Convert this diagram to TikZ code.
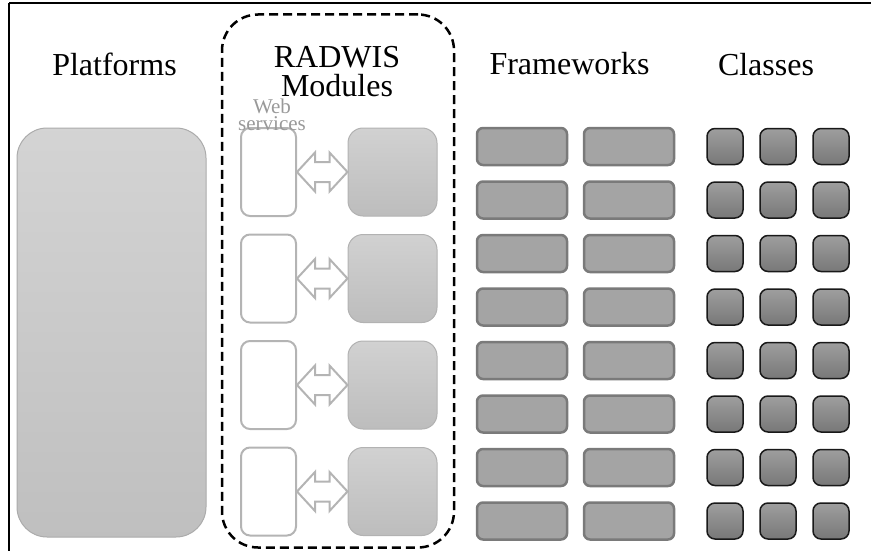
\documentclass[tikz,border=0pt]{standalone}
\usepackage{fontspec}
\setmainfont{Liberation Serif}
\usetikzlibrary{calc}

\definecolor{wsgray}{HTML}{B4B4B4}
\definecolor{fwfill}{HTML}{A4A4A4}
\definecolor{fwline}{HTML}{7A7A7A}

\begin{document}
\begin{tikzpicture}[x = 1pt, y = -1pt,
	title/.style = {font = \fontsize{32}{29}\selectfont, align = center, inner sep = 0},
	platbox/.style = {draw = black!33, line width = 1pt, rounded corners = 30pt,
		top color = black!17, bottom color = black!25,
		minimum width = 189pt, minimum height = 409pt},
	modframe/.style = {draw, line width = 2.5pt, dash pattern = on 9pt off 5pt,
		rounded corners = 36pt, minimum width = 232pt, minimum height = 533pt},
	wsbox/.style = {draw = wsgray, fill = white, line width = 2pt, rounded corners = 9pt,
		minimum width = 55pt, minimum height = 88pt},
	modbox/.style = {draw = black!30, line width = 1pt, rounded corners = 15pt,
		top color = black!18, bottom color = black!26,
		minimum width = 89pt, minimum height = 88pt},
	wsarrow/.style = {draw = wsgray, fill = white, line width = 2pt, line join = miter},
	fwbox/.style = {draw = fwline, fill = fwfill, line width = 2.5pt, rounded corners = 6pt,
		minimum width = 90pt, minimum height = 37pt},
	clbox/.style = {draw = black!90, line width = 1.5pt, rounded corners = 8pt,
		top color = black!38, bottom color = black!53,
		minimum width = 36pt, minimum height = 36pt}]
	\useasboundingbox (0,0) rectangle (871,551);
	
	% frame
	\draw[line width = 2.5pt] (9,3) -- (871,3);
	\draw[line width = 2pt] (9,3) -- (9,551);
	
	% titles
	\node[title, anchor = base] (tplat) at (114.5,76) {Platforms};
	\node[title, anchor = base, text depth = 0pt] (tmod) at (337,97) {RADWIS\\Modules};
	\node[title, anchor = base] (tfw) at (569.5,75) {Frameworks};
	\node[title, anchor = base] (tcl) at (766,76) {Classes};
	
	% platforms
	\node[platbox] (plat) at (111.5,332.5) {};
	
	% RADWIS modules
	\node[modframe] (radwis) at (338,281) {};
	\foreach \i in {0,...,3} {
		\node[wsbox] (ws\i) at (268.5,{172+106.5*\i}) {};
		\node[modbox] (mod\i) at (392.5,{172+106.5*\i}) {};
		\draw[wsarrow] (ws\i.east) -- ++(18,-19.5) -- ++(0,9.5)
			-- ($(mod\i.west)+(-18,-10)$) -- ++(0,-9.5) -- (mod\i.west)
			-- ++(-18,19.5) -- ++(0,-9.5) -- ($(ws\i.east)+(18,10)$) -- ++(0,9.5) -- cycle;
	}
	\node[font = \fontsize{21}{17}\selectfont, text = black!40, align = center,
		anchor = base, inner sep = 0, text height = 12pt] (twebs) at (272,130) {Web\\services};
	
	% frameworks and classes
	\foreach \i in {0,...,7} {
		\node[fwbox] (fwa\i) at (522,{146.5+53.5*\i}) {};
		\node[fwbox] (fwb\i) at (629,{146.5+53.5*\i}) {};
		\node[clbox] (cla\i) at (725,{146.5+53.5*\i}) {};
		\node[clbox] (clb\i) at (778,{146.5+53.5*\i}) {};
		\node[clbox] (clc\i) at (831,{146.5+53.5*\i}) {};
	}
\end{tikzpicture}
\end{document}
